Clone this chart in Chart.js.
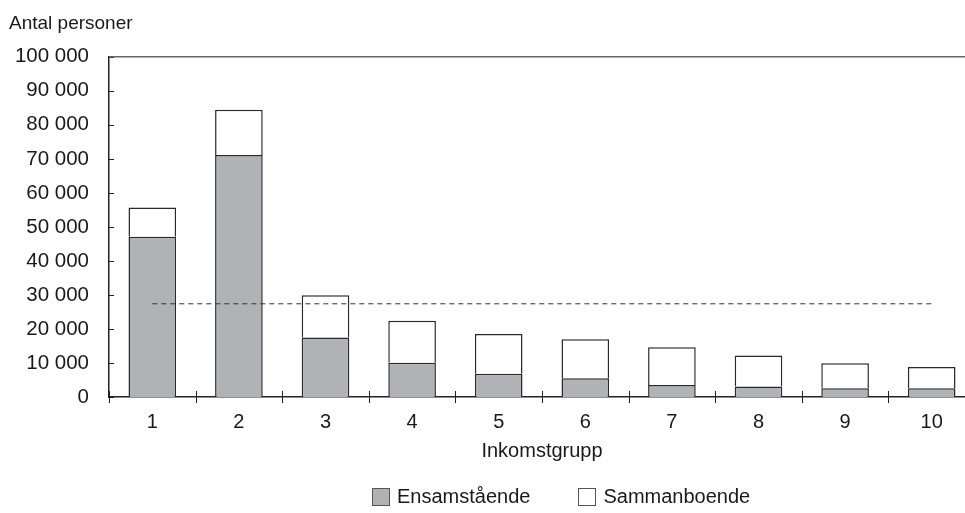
<!DOCTYPE html>
<html lang="sv">
<head>
<meta charset="utf-8">
<title>Antal personer per inkomstgrupp</title>
<script src="https://cdn.jsdelivr.net/npm/chart.js@4/dist/chart.umd.min.js"></script>
<style>
    html, body { margin: 0; padding: 0; background: #fff; overflow: hidden; }
    #wrap { position: relative; width: 980px; height: 513px; }
    #legend {
        position: absolute; top: 485px; left: 372px;
        display: flex; align-items: center;
        font: 20px "Liberation Sans", Arial, sans-serif; color: #1a1a1a;
    }
    .item { display: flex; align-items: center; }
    .item + .item { margin-left: 48px; }
    .box { width: 16px; height: 16px; border: 1px solid #555; margin-right: 7px; }
</style>
</head>
<body>
<div id="wrap">
    <canvas id="incomeChart" width="980" height="513"></canvas>
    <div id="legend"></div>
</div>
<script>
// Data
const groups = ["1", "2", "3", "4", "5", "6", "7", "8", "9", "10"];
const ensamstaende = [47100, 71100, 17500, 10100, 6800, 5500, 3500, 3100, 2600, 2600];
const sammanboende = [8600, 13300, 12400, 12300, 11700, 11500, 11100, 9100, 7300, 6200];
const averageLine = [27400, 27400, 27400, 27400, 27400, 27400, 27400, 27400, 27400, 27400];
const yMax = 100000;
const yStep = 10000;

const fontFamily = '"Liberation Sans", Arial, sans-serif';
const textColor = '#1a1a1a';
const grayFill = '#b1b2b6';

Chart.defaults.font.family = fontFamily;
Chart.defaults.font.size = 20;
Chart.defaults.color = textColor;

function formatThousands(v) {
    return String(v).replace(/\B(?=(\d{3})+(?!\d))/g, ' ');
}

// Inward y ticks, crossing x ticks and the top frame line
const axisTicks = {
    id: 'axisTicks',
    afterDraw(chart) {
        const { ctx, chartArea } = chart;
        const x = chart.scales.x;
        const y = chart.scales.y;
        ctx.save();
        ctx.strokeStyle = '#222';
        ctx.lineWidth = 1;
        ctx.beginPath();
        y.ticks.forEach((t, i) => {
            const py = Math.round(y.getPixelForTick(i)) + 0.5;
            ctx.moveTo(chartArea.left, py);
            ctx.lineTo(chartArea.left + 5, py);
        });
        for (let i = 0; i <= groups.length; i++) {
            const px = Math.round(x.getPixelForValue(i - 0.5)) + 0.5;
            ctx.moveTo(px, chartArea.bottom - 6);
            ctx.lineTo(px, chartArea.bottom + 6);
        }
        ctx.stroke();
        ctx.strokeStyle = '#666';
        ctx.lineWidth = 1.5;
        ctx.beginPath();
        ctx.moveTo(chartArea.left, chartArea.top);
        ctx.lineTo(chartArea.right, chartArea.top);
        ctx.stroke();
        ctx.restore();
    }
};

const chart = new Chart(document.getElementById('incomeChart'), {
    type: 'bar',
    data: {
        labels: groups,
        datasets: [{
            label: 'Ensamstående',
            data: ensamstaende,
            backgroundColor: grayFill,
            borderColor: '#2a2a2a',
            borderWidth: 1.5,
            borderSkipped: 'bottom',
            barPercentage: 0.55,
            categoryPercentage: 1,
            stack: 'hushall',
            order: 2
        }, {
            label: 'Sammanboende',
            data: sammanboende,
            backgroundColor: '#ffffff',
            borderColor: '#2a2a2a',
            borderWidth: 1.5,
            borderSkipped: 'bottom',
            barPercentage: 0.55,
            categoryPercentage: 1,
            stack: 'hushall',
            order: 2
        }, {
            type: 'line',
            label: 'Genomsnitt',
            data: averageLine,
            borderColor: '#333',
            borderWidth: 1,
            borderDash: [5, 4],
            pointRadius: 0,
            fill: false,
            stack: 'snitt',
            order: 1
        }]
    },
    options: {
        responsive: false,
        animation: false,
        layout: { padding: { left: 9, right: 5, top: 0, bottom: 50 } },
        plugins: {
            legend: { display: false },
            tooltip: { enabled: false },
            title: {
                display: true,
                text: 'Antal personer',
                align: 'start',
                color: textColor,
                font: { size: 19, weight: 'normal' },
                padding: { top: 12, bottom: 22 }
            }
        },
        scales: {
            x: {
                stacked: true,
                grid: { display: false, drawTicks: false, tickLength: 0 },
                border: { display: true, color: '#222', width: 1.5 },
                ticks: { padding: 13, color: textColor },
                title: {
                    display: true,
                    text: 'Inkomstgrupp',
                    color: textColor,
                    padding: { top: 6, bottom: 0 }
                },
                afterFit(scale) { scale.height = 66; }
            },
            y: {
                stacked: true,
                min: 0,
                max: yMax,
                grid: { display: false, drawTicks: false, tickLength: 0 },
                border: { display: true, color: '#222', width: 1.5 },
                ticks: {
                    stepSize: yStep,
                    padding: 20,
                    color: textColor,
                    font: { size: 20.5 },
                    callback: (v) => formatThousands(v)
                },
                afterFit(scale) { scale.width = 100; }
            }
        }
    },
    plugins: [axisTicks]
});

// Legend below the chart
const legendEl = document.getElementById('legend');
chart.data.datasets.slice(0, 2).forEach(ds => {
    const item = document.createElement('div');
    item.className = 'item';
    const box = document.createElement('span');
    box.className = 'box';
    box.style.background = ds.backgroundColor;
    item.appendChild(box);
    item.appendChild(document.createTextNode(ds.label));
    legendEl.appendChild(item);
});
</script>
</body>
</html>
